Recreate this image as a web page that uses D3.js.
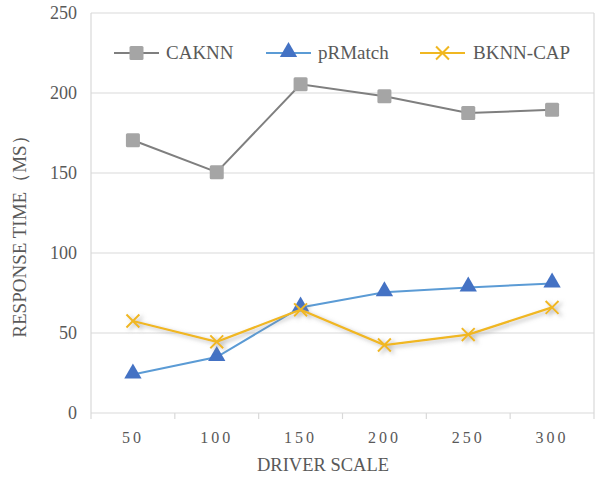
<!DOCTYPE html>
<html><head><meta charset="utf-8">
<script src="https://cdn.jsdelivr.net/npm/d3@7"></script>
<style>body{margin:0;background:#fff}svg{display:block}</style>
</head><body>
<svg id="c" width="600" height="479"></svg>
<script>
const categories = ["50","100","150","200","250","300"];
const caknn = [170.5, 150.5, 205.5, 198, 187.5, 189.5];
const prmatch = [24, 35, 66, 75.5, 78.5, 81];
const bknncap = [57.5, 44.5, 64.5, 42.5, 49, 66];
const yTicks = [0, 50, 100, 150, 200, 250];
const seriesNames = ["CAKNN", "pRMatch", "BKNN-CAP"];

const svg = d3.select("#c");
const L = 91, R = 594, T = 13, B = 413;
const x = d3.scaleBand().domain(categories).range([L, R]);
const y = d3.scaleLinear().domain([0, 250]).range([B, T]);
const font = "'Liberation Serif', 'Times New Roman', serif";
const txt = "#595959";

const defs = svg.append("defs");
const f = defs.append("filter").attr("id","sh").attr("x","-20%").attr("y","-20%").attr("width","140%").attr("height","160%");
f.append("feDropShadow").attr("dx",3).attr("dy",2).attr("stdDeviation",2).attr("flood-color","#888").attr("flood-opacity",0.6);

// gridlines
svg.append("g").selectAll("line").data(yTicks).join("line")
  .attr("x1", L).attr("x2", R).attr("y1", d => y(d)).attr("y2", d => y(d))
  .attr("stroke", "#d9d9d9").attr("stroke-width", 1.2);
svg.append("line").attr("x1",L).attr("x2",L).attr("y1",T).attr("y2",B).attr("stroke","#d9d9d9").attr("stroke-width",1.2);
svg.append("line").attr("x1",R).attr("x2",R).attr("y1",T).attr("y2",B).attr("stroke","#d9d9d9").attr("stroke-width",1.2);

// x axis ticks
const xAxis = d3.axisBottom(x).tickSize(0).tickPadding(0);
const gx = svg.append("g").attr("transform", `translate(0,${B})`).call(xAxis);
gx.select(".domain").remove();
gx.selectAll("text").attr("font-family", font).attr("font-size", 16).attr("fill", txt)
  .attr("letter-spacing", 3).attr("dy", 0).attr("y", 30);
const bounds = x.domain().map(d => x(d)).concat([R]);
svg.append("g").selectAll("line").data(bounds).join("line")
  .attr("x1", d => d).attr("x2", d => d).attr("y1", B).attr("y2", B + 6)
  .attr("stroke", "#d9d9d9").attr("stroke-width", 1.2);

// y axis labels
const yAxis = d3.axisLeft(y).tickValues(yTicks).tickSize(0).tickPadding(0);
const gy = svg.append("g").attr("transform", `translate(77,0)`).call(yAxis);
gy.select(".domain").remove();
gy.selectAll("text").attr("font-family", font).attr("font-size", 18).attr("fill", txt);

// titles
svg.append("text").attr("x", 323).attr("y", 471).attr("text-anchor","middle")
  .attr("font-family", font).attr("font-size", 18.5).attr("fill", txt).text("DRIVER SCALE");
svg.append("text").attr("transform","translate(26,232) rotate(-90)").attr("text-anchor","middle")
  .attr("font-family", font).attr("font-size", 19).attr("fill", txt).text("RESPONSE TIME（MS）");

const cx = d => x(d) + x.bandwidth() / 2;
const line = d3.line().x((d, i) => cx(categories[i])).y(d => y(d));

// CAKNN
svg.append("path").datum(caknn).attr("d", line).attr("fill","none").attr("stroke","#7f7f7f").attr("stroke-width",2);
svg.append("g").selectAll("rect").data(caknn).join("rect")
  .attr("x", (d,i) => cx(categories[i]) - 7).attr("y", d => y(d) - 7)
  .attr("width", 14).attr("height", 14).attr("rx", 1.5).attr("fill", "#a5a5a5");

// pRMatch
svg.append("path").datum(prmatch).attr("d", line).attr("fill","none").attr("stroke","#5b9bd5").attr("stroke-width",2);
const tri = d3.symbol().type(d3.symbolTriangle).size(130);
svg.append("g").selectAll("path").data(prmatch).join("path")
  .attr("d", tri).attr("transform", (d,i) => `translate(${cx(categories[i])},${y(d) - 1})`)
  .attr("fill", "#4472c4");

// BKNN-CAP
const gb = svg.append("g").attr("filter","url(#sh)");
gb.append("path").datum(bknncap).attr("d", line).attr("fill","none").attr("stroke","#f0b721").attr("stroke-width",2.2);
const xs = d3.symbol().type(d3.symbolX).size(110);
gb.append("g").selectAll("path").data(bknncap).join("path")
  .attr("d", xs).attr("transform", (d,i) => `translate(${cx(categories[i])},${y(d)})`)
  .attr("fill","none").attr("stroke","#f0b721").attr("stroke-width",2);

// legend
const ly = 53;
const leg = [
  {name: seriesNames[0], x1: 114, x2: 159, c: "#7f7f7f", tx: 166},
  {name: seriesNames[1], x1: 266, x2: 311, c: "#5b9bd5", tx: 318},
  {name: seriesNames[2], x1: 420, x2: 465, c: "#f0b721", tx: 473}
];
leg.forEach((l, i) => {
  svg.append("line").attr("x1", l.x1).attr("x2", l.x2).attr("y1", ly).attr("y2", ly).attr("stroke", l.c).attr("stroke-width", 2);
  const m = (l.x1 + l.x2) / 2;
  if (i === 0) svg.append("rect").attr("x", m - 7).attr("y", ly - 7).attr("width", 14).attr("height", 14).attr("rx",1.5).attr("fill", "#a5a5a5");
  if (i === 1) svg.append("path").attr("d", tri).attr("transform", `translate(${m},${ly - 1})`).attr("fill", "#4472c4");
  if (i === 2) svg.append("path").attr("d", xs).attr("transform", `translate(${m},${ly})`).attr("fill","none").attr("stroke", l.c).attr("stroke-width", 2);
  svg.append("text").attr("x", l.tx).attr("y", ly + 6).attr("font-family", font).attr("font-size", 19).attr("fill", txt).text(l.name);
});
</script>
</body></html>
